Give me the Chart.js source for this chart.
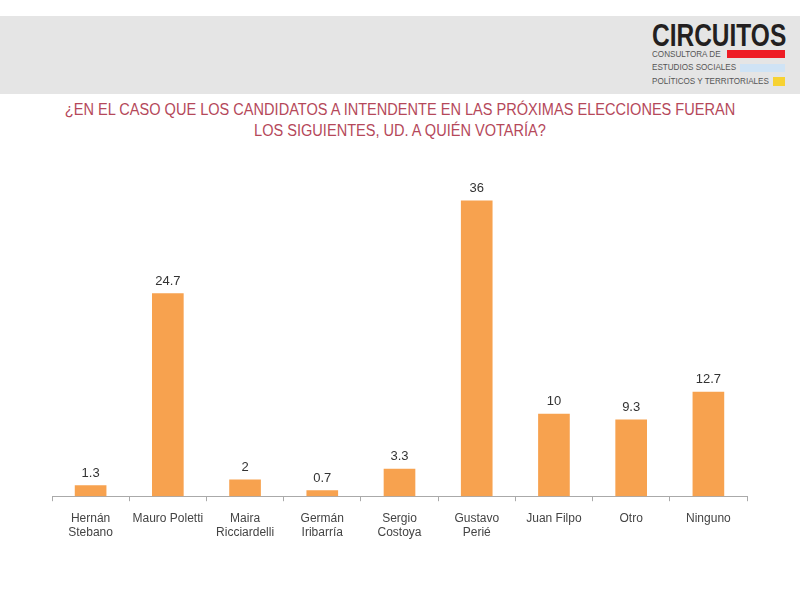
<!DOCTYPE html>
<html>
<head>
<meta charset="utf-8">
<script src="https://cdn.jsdelivr.net/npm/chart.js@4"></script>
<style>
  body { margin: 0; width: 800px; height: 600px; background: #fff; position: relative; overflow: hidden; font-family: "Liberation Sans", Arial, sans-serif; }
  #banner { position: absolute; left: 0; top: 16px; width: 800px; height: 78px; background: #e5e5e5; }
  .abs { position: absolute; white-space: nowrap; transform-origin: left top; }
  #logoName { left: 652px; top: 19px; font-weight: bold; font-size: 31px; line-height: 34px; color: #231f20; transform: scaleX(0.79); }
  .small { left: 652px; font-size: 9px; line-height: 10px; color: #555; transform: scaleX(0.9); }
  .bar { position: absolute; }
  #title { left: 400px; top: 99px; text-align: center; font-size: 16px; line-height: 21px; color: #b5485a; transform: translateX(-50%) scaleX(0.91); transform-origin: center top; }
  #wrap { position: absolute; left: 0; top: 0; width: 800px; height: 600px; }
</style>
</head>
<body>
<div id="banner"></div>
<div id="logoName" class="abs">CIRCUITOS</div>
<div class="abs small" style="top:49px;">CONSULTORA DE</div>
<div class="abs small" style="top:62px;">ESTUDIOS SOCIALES</div>
<div class="abs small" style="top:76px;">POLÍTICOS Y TERRITORIALES</div>
<div class="bar" style="left:727px;top:50px;width:58px;height:8px;background:#ee1c25;"></div>
<div class="bar" style="left:740px;top:64px;width:45px;height:8px;background:#cfe3f5;"></div>
<div class="bar" style="left:773px;top:77px;width:12px;height:9px;background:#f7d232;"></div>
<div id="title" class="abs">¿EN EL CASO QUE LOS CANDIDATOS A INTENDENTE EN LAS PRÓXIMAS ELECCIONES FUERAN<br>LOS SIGUIENTES, UD. A QUIÉN VOTARÍA?</div>
<div id="wrap"><canvas id="chart" width="800" height="600"></canvas></div>
<script>
const candidates = [
  ["Hernán", "Stebano"],
  "Mauro Poletti",
  ["Maira", "Ricciardelli"],
  ["Germán", "Iribarría"],
  ["Sergio", "Costoya"],
  ["Gustavo", "Perié"],
  "Juan Filpo",
  "Otro",
  "Ninguno"
];
const votes = [1.3, 24.7, 2, 0.7, 3.3, 36, 10, 9.3, 12.7];

const valueLabels = {
  id: "valueLabels",
  afterDatasetsDraw(chart) {
    const ctx = chart.ctx;
    const meta = chart.getDatasetMeta(0);
    ctx.save();
    ctx.font = "13px 'Liberation Sans', Arial, sans-serif";
    ctx.fillStyle = "#333";
    ctx.textAlign = "center";
    ctx.textBaseline = "bottom";
    meta.data.forEach((bar, i) => {
      ctx.fillText(String(votes[i]), bar.x, bar.y - 6);
    });
    ctx.restore();
  }
};

new Chart(document.getElementById("chart").getContext("2d"), {
  type: "bar",
  data: {
    labels: candidates,
    datasets: [{
      data: votes,
      backgroundColor: "#f7a24f",
      borderWidth: 0,
      barThickness: 31
    }]
  },
  options: {
    responsive: false,
    animation: false,
    layout: { padding: { left: 52, right: 53, top: 168, bottom: 50 } },
    plugins: { legend: { display: false }, tooltip: { enabled: false } },
    scales: {
      y: { display: false, min: 0, max: 40 },
      x: {
        grid: { drawOnChartArea: false, drawTicks: true, tickLength: 5, color: "#aaa", offset: true },
        border: { color: "#aaa" },
        ticks: { color: "#444", font: { family: "'Liberation Sans', Arial, sans-serif", size: 12 }, maxRotation: 0, autoSkip: false, padding: 10 }
      }
    }
  },
  plugins: [valueLabels]
});
</script>
</body>
</html>
